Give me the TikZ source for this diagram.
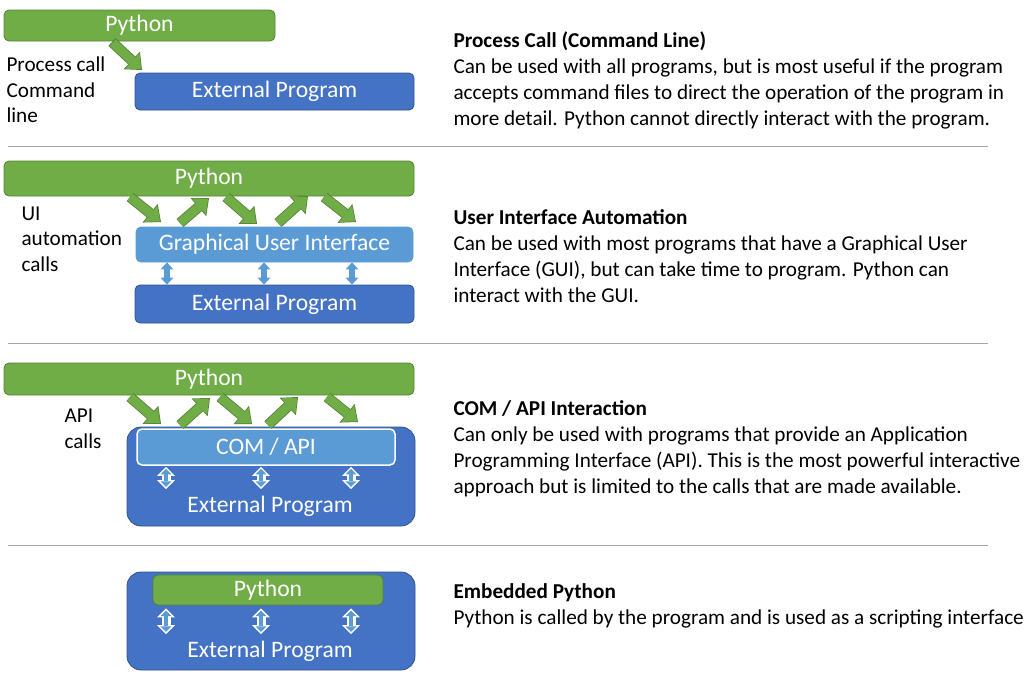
\documentclass[tikz,border=0pt]{standalone}
\usepackage{fontspec}
\setmainfont{Carlito}
\usetikzlibrary{arrows.meta}

\definecolor{pygreen}{HTML}{70AD47}
\definecolor{pygreenline}{HTML}{548235}
\definecolor{progblue}{HTML}{4472C4}
\definecolor{progblueline}{HTML}{2F528F}
\definecolor{guiblue}{HTML}{5B9BD5}
\definecolor{sepgray}{HTML}{A6A6A6}

\begin{document}
\begin{tikzpicture}[
		x=1pt, y=-1pt,
		box/.style={draw, line width=0.8pt, rounded corners=5pt, text=white, inner sep=0pt, font=\fontsize{23.6}{28}\selectfont},
		pybox/.style={box, fill=pygreen, draw=pygreenline},
		progbox/.style={box, fill=progblue, draw=progblueline},
		guibox/.style={box, fill=guiblue, draw=guiblue},
		outerbox/.style={progbox, rounded corners=14pt},
		boxtext/.style={text=white, font=\fontsize{23.6}{28}\selectfont},
		calllabel/.style={align=left, anchor=west, font=\fontsize{21.2}{25.5}\selectfont},
		desc/.style={align=left, anchor=west, font=\fontsize{21.2}{26}\selectfont},
		sepline/.style={sepgray, line width=0.8pt},
		callarrowbg/.style={-{Triangle[length=14pt, width=24pt, line width=0pt]}, line width=10.5pt, pygreenline},
		callarrow/.style={-{Triangle[length=12pt, width=21pt, line width=0pt]}, line width=8.8pt, pygreen, shorten >=1.2pt},
		guiarrow/.style={{Triangle[length=7pt, width=13pt, line width=0pt]}-{Triangle[length=7pt, width=13pt, line width=0pt]}, line width=6.5pt, guiblue},
		apiarrowout/.style={{Triangle[length=9pt, width=18pt, line width=0pt]}-{Triangle[length=9pt, width=18pt, line width=0pt]}, line width=9pt, white},
		apiarrowin/.style={{Triangle[length=5.5pt, width=11pt, line width=0pt]}-{Triangle[length=5.5pt, width=11pt, line width=0pt]}, line width=4.5pt, guiblue, shorten >=2.2pt, shorten <=2.2pt}
	]
	\useasboundingbox (0,0) rectangle (1028,678);

	% process call
	\node[pybox, minimum width=271pt, minimum height=31pt] (py1) at (139.5,25.5) {Python};
	\node[progbox, minimum width=279pt, minimum height=37pt] (ext1) at (274.5,91.5) {External Program};
	\draw[callarrowbg] (112,42) -- (142,70);
	\draw[callarrow] (112.7,42.7) -- (142,70);
	\node[calllabel] (lbl1) at (3,90) {Process call\\Command\\line};
	\node[desc] (desc1) at (450,80) {\textbf{Process Call (Command Line)}\\Can be used with all programs, but is most useful if the program\\accepts command files to direct the operation of the program in\\more detail. Python cannot directly interact with the program.};
	\draw[sepline] (8,146) -- (988,146);

	% UI automation
	\node[pybox, minimum width=410pt, minimum height=35pt] (py2) at (209,178.5) {Python};
	\node[guibox, minimum width=277pt, minimum height=35pt] (gui2) at (274.5,244.5) {Graphical User Interface};
	\node[progbox, minimum width=279pt, minimum height=38pt] (ext2) at (274.5,304) {External Program};
	\foreach \xa/\ya/\xb/\yb in {130/197/161/222, 180/223/209/198, 226/197/257/224, 278/223/308/196, 324/197/356/222} {
		\draw[callarrowbg] (\xa,\ya) -- (\xb,\yb);
		\draw[callarrow] (\xa,\ya) -- (\xb,\yb);
	}
	\foreach \x in {167,264,352}
		\draw[guiarrow] (gui2.south -| \x,0) -- (ext2.north -| \x,0);
	\node[calllabel] (lbl2) at (18,239) {UI\\automation\\calls};
	\node[desc] (desc2) at (450,256) {\textbf{User Interface Automation}\\Can be used with most programs that have a Graphical User\\Interface (GUI), but can take time to program. Python can\\interact with the GUI.};
	\draw[sepline] (8,343) -- (988,343);

	% COM / API
	\node[pybox, minimum width=410pt, minimum height=32pt] (py3) at (209,379) {Python};
	\node[outerbox, minimum width=288pt, minimum height=99pt] (ext3) at (271,476.5) {};
	\node[guibox, draw=white, line width=1.5pt, minimum width=258pt, minimum height=36pt] (api3) at (266,447) {COM / API};
	\node[boxtext] (ext3text) at (270,506) {External Program};
	\foreach \xa/\ya/\xb/\yb in {130/397/161/424, 180/425/210/398, 220/397/252/424, 268/425/298/397, 327/397/358/422} {
		\draw[callarrowbg] (\xa,\ya) -- (\xb,\yb);
		\draw[callarrow] (\xa,\ya) -- (\xb,\yb);
	}
	\foreach \x in {166,261,351} {
		\draw[apiarrowout] (api3.south -| \x,0) ++(0,1) coordinate (a) -- (\x,489) coordinate (b);
		\draw[apiarrowin] (a) -- (b);
	}
	\node[calllabel] (lbl3) at (61,429) {API\\calls};
	\node[desc] (desc3) at (450,449) {\textbf{COM / API Interaction}\\Can only be used with programs that provide an Application\\Programming Interface (API). This is the most powerful interactive\\approach but is limited to the calls that are made available.};
	\draw[sepline] (8,545) -- (988,545);

	% embedded
	\node[outerbox, minimum width=288pt, minimum height=98pt] (ext4) at (271,621) {};
	\node[pybox, minimum width=230pt, minimum height=30pt] (py4) at (268,590) {Python};
	\node[boxtext] (ext4text) at (270,651) {External Program};
	\foreach \x in {166,261,351} {
		\draw[apiarrowout] (py4.south -| \x,0) ++(0,3) coordinate (a) -- (\x,634) coordinate (b);
		\draw[apiarrowin] (a) -- (b);
	}
	\node[desc] (desc4) at (450,605.5) {\textbf{Embedded Python}\\Python is called by the program and is used as a scripting interface};
\end{tikzpicture}
\end{document}
